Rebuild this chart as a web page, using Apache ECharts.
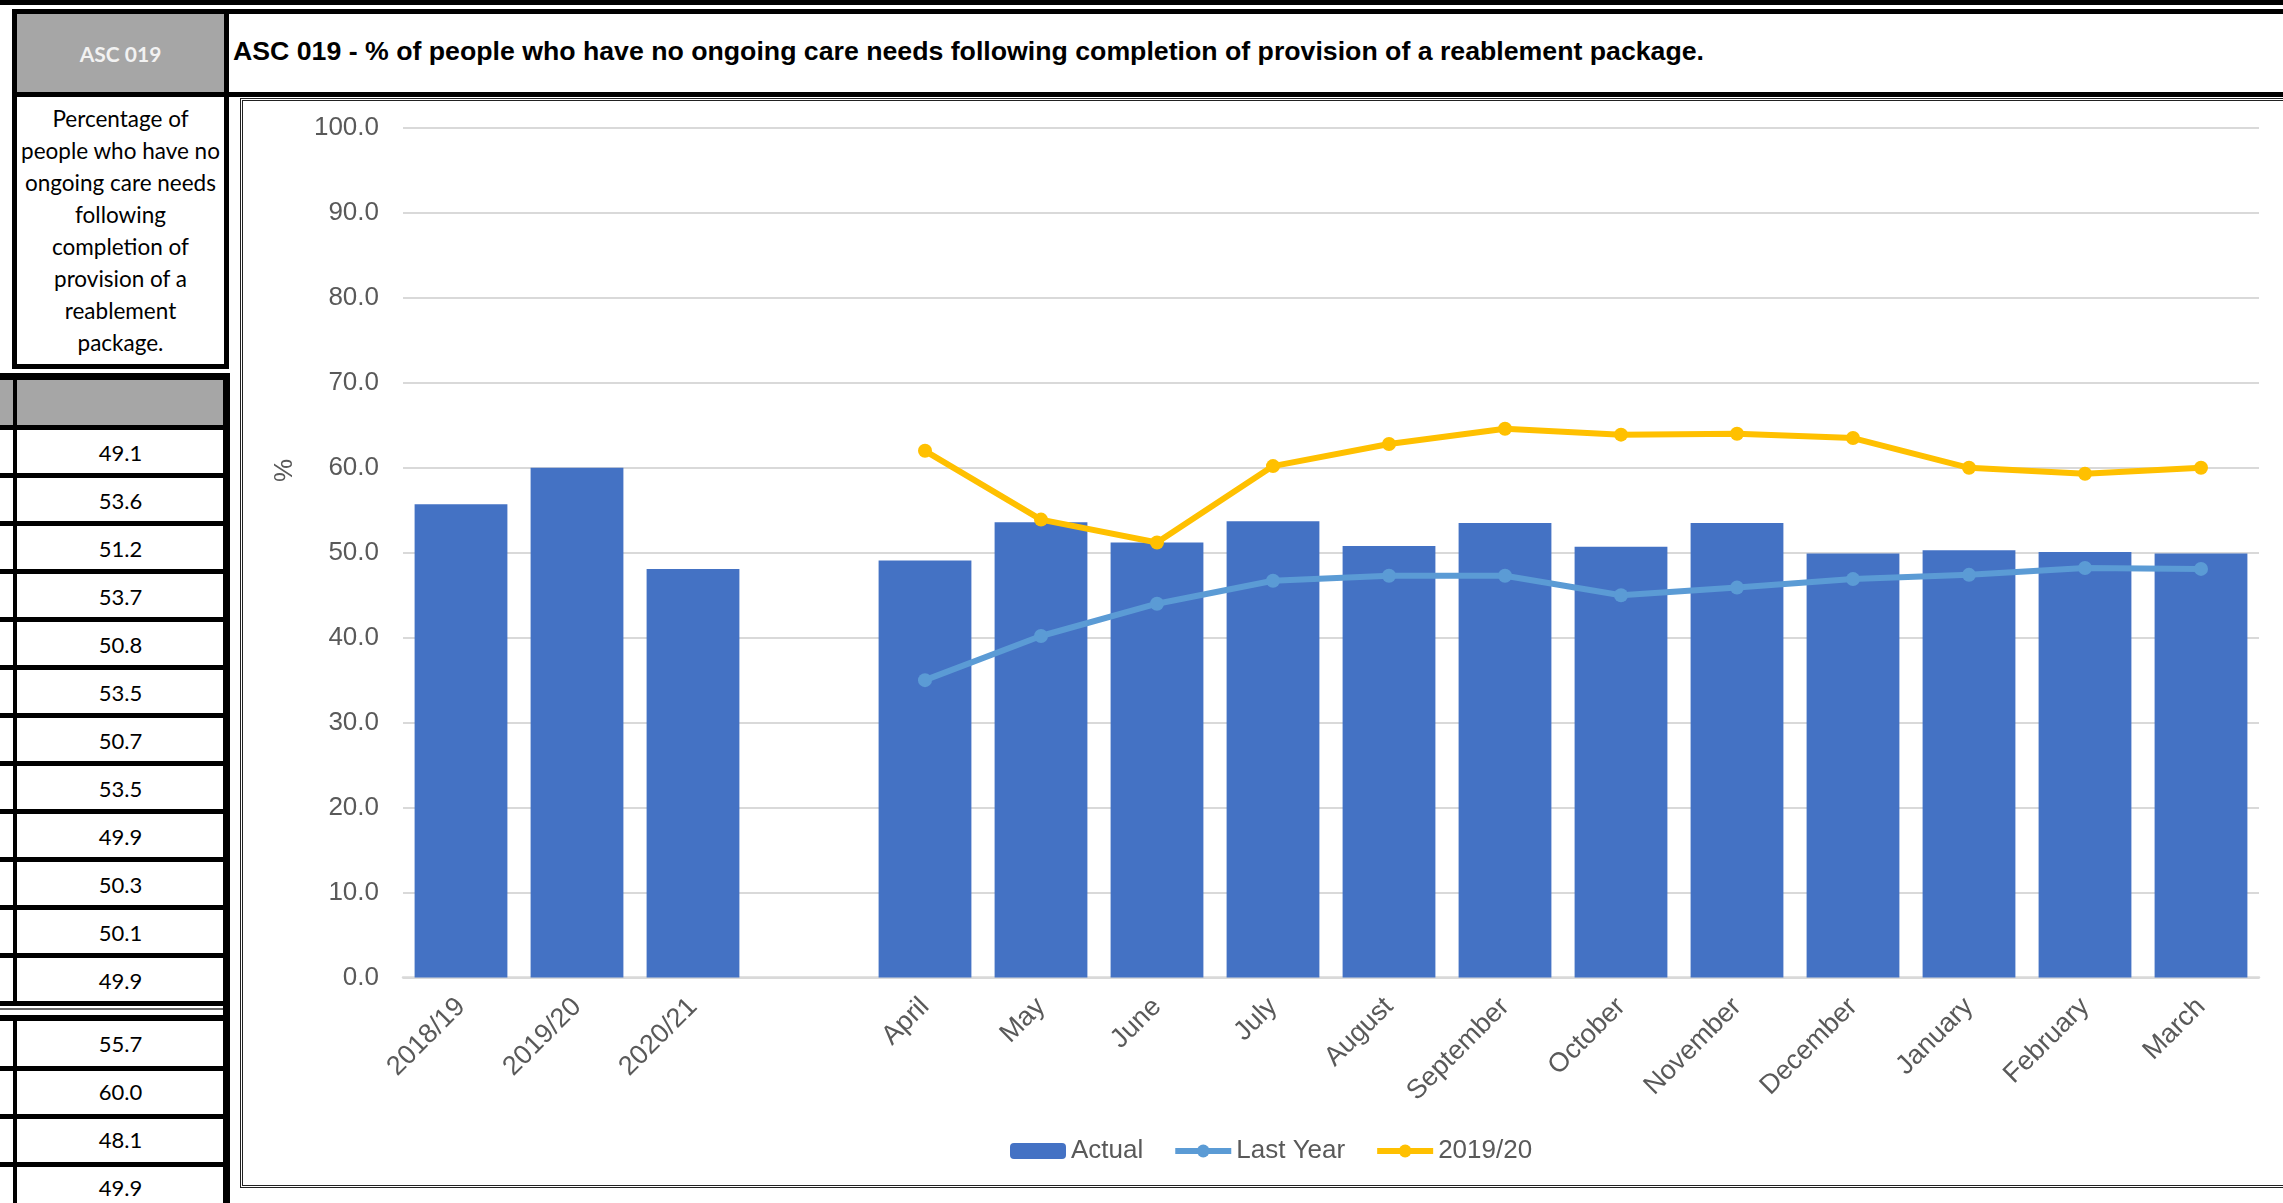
<!DOCTYPE html>
<html><head><meta charset="utf-8">
<script src="https://cdn.jsdelivr.net/npm/echarts@6/dist/echarts.min.js"></script>
<style>
html,body{margin:0;padding:0;width:2283px;height:1203px;overflow:hidden;background:#fff;}
.abs{position:absolute;box-sizing:border-box;}
.cell{position:absolute;font-family:Lato,'Open Sans',sans-serif;font-size:22px;color:#000;text-align:center;}
</style></head><body>
<div id="layout"></div>
<div id="chart" style="position:absolute;left:0;top:0;width:2283px;height:1203px;z-index:5"></div>
<script>
// ---- data ----
const yearLabels = ['2018/19', '2019/20', '2020/21'];
const monthLabels = ['April', 'May', 'June', 'July', 'August', 'September', 'October', 'November', 'December', 'January', 'February', 'March'];
const annualActual = [55.7, 60.0, 48.1];
const monthlyActual = [49.1, 53.6, 51.2, 53.7, 50.8, 53.5, 50.7, 53.5, 49.9, 50.3, 50.1, 49.9];
const lastYear = [35.0, 40.2, 44.0, 46.7, 47.3, 47.3, 45.0, 45.9, 46.9, 47.4, 48.2, 48.1];
const year1920 = [62.0, 53.9, 51.2, 60.2, 62.8, 64.6, 63.9, 64.0, 63.5, 60.0, 59.3, 60.0];
const yearToDate = 49.9;
const seriesNames = ['Actual', 'Last Year', '2019/20'];
const indicatorCode = 'ASC 019';
const titleText = 'ASC 019 - % of people who have no ongoing care needs following completion of provision of a reablement package.';
const descLines = ['Percentage of', 'people who have no', 'ongoing care needs', 'following', 'completion of', 'provision of a', 'reablement', 'package.'];

// ---- spreadsheet-like layout ----
const L = document.getElementById('layout');
function box(x, y, w, h, css, html) {
  const d = document.createElement('div');
  d.className = 'abs';
  d.style.left = x + 'px'; d.style.top = y + 'px';
  d.style.width = w + 'px'; d.style.height = h + 'px';
  if (css) d.style.cssText += css;
  if (html !== undefined) d.innerHTML = html;
  L.appendChild(d);
  return d;
}
// top black bar
box(0, 0, 2283, 5, 'background:#000');
// code box
box(12, 9, 217, 88, 'border:5px solid #000;background:#A6A6A6;display:flex;align-items:center;justify-content:center;font-family:Lato,sans-serif;font-weight:bold;font-size:21px;color:#F2F2F2', indicatorCode);
// title box
box(224, 9, 2100, 88, 'border:5px solid #000;background:#fff;display:flex;align-items:center;padding-left:4px;padding-bottom:3px;font-family:"Liberation Sans",Arial,sans-serif;font-weight:bold;font-size:26.7px;color:#000;white-space:nowrap', titleText);
// description box
box(12, 92, 217, 277, 'border:5px solid #000;background:#fff;display:flex;align-items:center;justify-content:center;text-align:center;font-family:Lato,sans-serif;font-size:22.5px;line-height:32px;color:#000', descLines.join('<br>'));
// chart frame
box(240, 98, 2100, 1090, 'border:3px double #222;background:#fff');

// table 1 (monthly)
box(0, 373, 229, 7, 'background:#000');
box(0, 380, 224, 46, 'background:#A6A6A6');
box(13, 380, 4, 626, 'background:#000');
for (let i = 0; i <= monthlyActual.length; i++) {
  box(0, 425 + 48 * i, 224, 5, 'background:#000');
}
monthlyActual.forEach((v, i) => {
  const c = document.createElement('div');
  c.className = 'cell';
  c.style.left = '17px'; c.style.width = '207px';
  c.style.top = (430 + 48 * i) + 'px'; c.style.height = '43px'; c.style.lineHeight = '46px';
  c.textContent = v.toFixed(1);
  L.appendChild(c);
});
box(0, 1008, 224, 2, 'background:#666');
// table 2 (annual)
box(0, 1015, 229, 6, 'background:#000');
box(13, 1021, 4, 200, 'background:#000');
const annualRows = annualActual.concat([yearToDate]);
for (let i = 1; i < annualRows.length; i++) {
  box(0, 1018 + 48 * i, 224, 5, 'background:#000');
}
annualRows.forEach((v, i) => {
  const c = document.createElement('div');
  c.className = 'cell';
  c.style.left = '17px'; c.style.width = '207px';
  c.style.top = (1021 + 48 * i) + 'px'; c.style.height = '45px'; c.style.lineHeight = '46px';
  c.textContent = v.toFixed(1);
  L.appendChild(c);
});
// right border of tables
box(223, 373, 7, 840, 'background:#000');

// ---- chart ----
const categories = yearLabels.concat(['']).concat(monthLabels);
const pad = [null, null, null, null];
const barData = annualActual.concat([null]).concat(monthlyActual);
const lastYearData = pad.concat(lastYear);
const y1920Data = pad.concat(year1920);

const FONT = '"Liberation Sans", Arial, sans-serif';
const chart = echarts.init(document.getElementById('chart'), null, { renderer: 'canvas' });
chart.setOption({
  animation: false,
  textStyle: { fontFamily: FONT },
  grid: { left: 403, right: 24, top: 128, bottom: 225.5, containLabel: false },
  legend: {
    data: seriesNames,
    left: 1005, top: 1133,
    itemWidth: 56, itemHeight: 16, itemGap: 29,
    lineStyle: { width: 6 },
    textStyle: { fontSize: 26, color: '#595959', fontFamily: FONT }
  },
  xAxis: {
    type: 'category',
    data: categories,
    axisLine: { lineStyle: { color: '#D9D9D9', width: 2.5 } },
    axisTick: { show: false },
    axisLabel: { interval: 0, rotate: 45, fontSize: 27, color: '#595959', margin: 25, fontFamily: FONT }
  },
  yAxis: {
    type: 'value', min: 0, max: 100, interval: 10,
    axisLine: { show: false }, axisTick: { show: false },
    axisLabel: { fontSize: 26, color: '#595959', margin: 24, fontFamily: FONT, formatter: v => v.toFixed(1) },
    splitLine: { lineStyle: { color: '#D9D9D9', width: 2 } }
  },
  graphic: [{
    type: 'text', x: 272, y: 482, rotation: Math.PI / 2,
    style: { text: '%', fontSize: 26, fill: '#595959', fontFamily: FONT }
  }],
  series: [
    { name: seriesNames[0], type: 'bar', data: barData, barCategoryGap: '20%', itemStyle: { color: '#4472C4' } },
    { name: seriesNames[1], type: 'line', data: lastYearData, connectNulls: false, symbol: 'circle', symbolSize: 14,
      itemStyle: { color: '#5B9BD5' }, lineStyle: { color: '#5B9BD5', width: 6 } },
    { name: seriesNames[2], type: 'line', data: y1920Data, connectNulls: false, symbol: 'circle', symbolSize: 14,
      itemStyle: { color: '#FFC000' }, lineStyle: { color: '#FFC000', width: 6 } }
  ]
});
</script>
</body></html>
